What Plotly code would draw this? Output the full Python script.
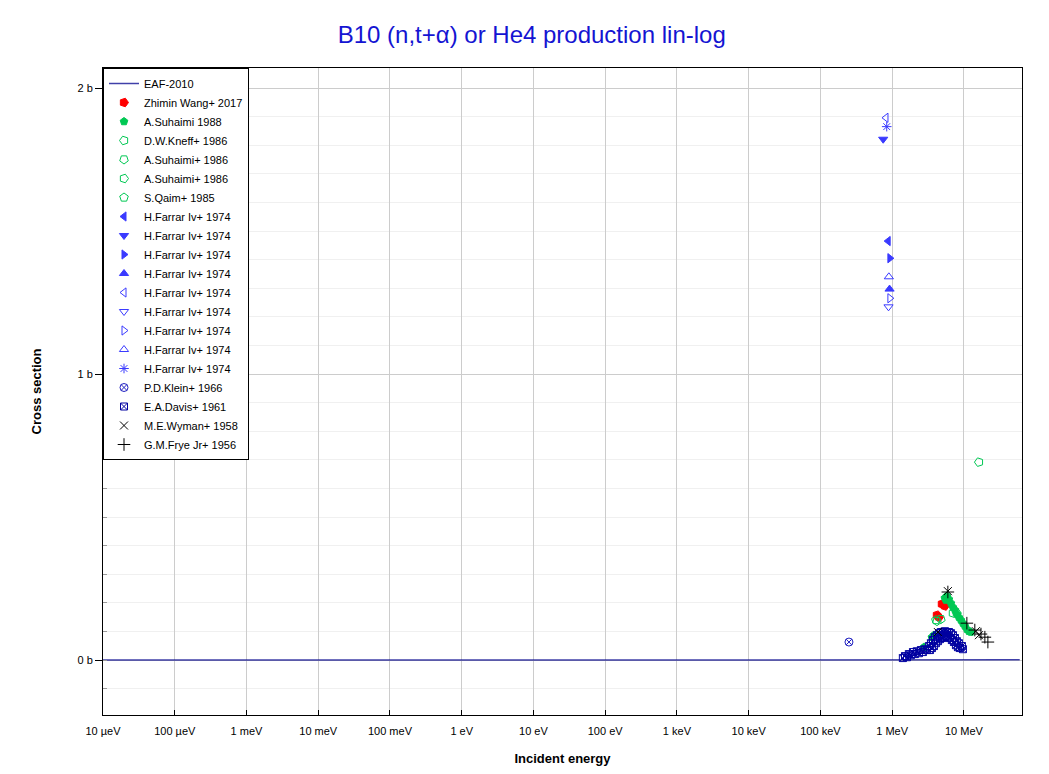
import plotly.graph_objects as go

# ---- data (energies in eV, cross sections in barn) ----
eaf_e = [1e-5, 1e-3, 1e-1, 1e1, 1e3, 1e5, 1e6, 3e6, 1e7, 2e7, 6e7]
eaf_cs = [0.0, 0.0, 0.0, 0.0, 0.0, 0.0, 0.0, 0.0005, 0.001, 0.001, 0.001]

wang_e = [4.21e6, 4.49e6, 4.94e6, 5.43e6]
wang_cs = [0.157, 0.150, 0.196, 0.189]

suhaimi88_e = [2.77e6, 3.58e6, 3.82e6, 5.43e6, 5.61e6, 5.79e6, 6.18e6, 6.59e6, 7.03e6,
               7.50e6, 7.98e6, 8.51e6, 9.08e6, 9.69e6, 1.03e7, 1.10e7, 1.17e7, 1.25e7]
suhaimi88_cs = [0.045, 0.080, 0.087, 0.217, 0.210, 0.224, 0.213, 0.199, 0.185,
                0.175, 0.161, 0.150, 0.140, 0.129, 0.119, 0.108, 0.101, 0.098]

kneff_e = [1.62e7]
kneff_cs = [0.692]

suhaimi86a_e = [4.21e6, 4.78e6]
suhaimi86a_cs = [0.136, 0.143]

suhaimi86b_e = [7.03e6, 7.98e6]
suhaimi86b_cs = [0.164, 0.164]

qaim_e = [4.07e6]
qaim_cs = [0.140]

farrar_symbols = ["triangle-left", "triangle-down", "triangle-right", "triangle-up",
                  "triangle-left-open", "triangle-down-open", "triangle-right-open",
                  "triangle-up-open", "asterisk-open"]
farrar_e = [8.8e5, 7.5e5, 9.3e5, 9.2e5, 8.2e5, 8.9e5, 9.3e5, 9.0e5, 8.4e5]
farrar_cs = [1.465, 1.821, 1.405, 1.297, 1.896, 1.235, 1.265, 1.340, 1.865]

klein_e = [2.5e5]
klein_cs = [0.063]

davis_e = [1.41e6, 1.51e6, 1.61e6, 1.71e6, 1.82e6, 1.95e6, 2.07e6, 2.21e6, 2.36e6, 2.52e6,
           2.68e6, 2.86e6, 3.05e6, 3.25e6, 3.36e6, 3.47e6, 3.58e6, 3.70e6, 3.82e6, 3.94e6,
           4.07e6, 4.21e6, 4.34e6, 4.49e6, 4.63e6, 4.78e6, 4.94e6, 5.10e6, 5.26e6, 5.43e6,
           5.61e6, 5.79e6, 5.98e6, 6.18e6, 6.38e6, 6.59e6, 6.80e6, 7.03e6, 7.26e6, 7.50e6,
           7.74e6, 7.98e6, 8.25e6, 8.51e6, 8.80e6, 9.38e6, 9.69e6]
davis_cs = [0.007, 0.014, 0.010, 0.021, 0.017, 0.028, 0.021, 0.031, 0.024, 0.035,
            0.028, 0.038, 0.035, 0.049, 0.035, 0.059, 0.042, 0.070, 0.049, 0.080,
            0.059, 0.087, 0.066, 0.094, 0.073, 0.098, 0.077, 0.098, 0.080, 0.101,
            0.084, 0.098, 0.080, 0.098, 0.077, 0.094, 0.070, 0.087, 0.063, 0.077,
            0.052, 0.066, 0.045, 0.059, 0.042, 0.049, 0.038]

wyman_e = [4.34e6, 5.98e6, 1.47e7, 1.62e7]
wyman_cs = [0.098, 0.241, 0.101, 0.087]

frye_e = [5.98e6, 1.10e7, 1.42e7, 1.73e7, 1.96e7, 2.16e7]
frye_cs = [0.238, 0.129, 0.105, 0.091, 0.080, 0.063]

tick_vals = [1e-5, 1e-4, 1e-3, 1e-2, 1e-1, 1, 10, 100, 1e3, 1e4, 1e5, 1e6, 1e7]
tick_text = ["10 µeV", "100 µeV", "1 meV", "10 meV", "100 meV", "1 eV", "10 eV",
             "100 eV", "1 keV", "10 keV", "100 keV", "1 MeV", "10 MeV"]

GREEN = "#00c853"
FARRAR = "#3a3aff"

fig = go.Figure()

fig.add_trace(go.Scatter(x=eaf_e, y=eaf_cs, mode="lines", name="EAF-2010",
                         line=dict(color="rgba(0,0,140,0.75)", width=1.5)))

def pts(x, y, name, symbol, color, size=7, angle=0):
    fig.add_trace(go.Scatter(x=x, y=y, mode="markers", name=name,
                             marker=dict(symbol=symbol, color=color, size=size, angle=angle,
                                         line=dict(color=color, width=1))))

pts(wang_e, wang_cs, "Zhimin Wang+ 2017", "pentagon", "#ff0000", 9, 90)
pts(suhaimi88_e, suhaimi88_cs, "A.Suhaimi 1988", "pentagon", GREEN, 8)
pts(kneff_e, kneff_cs, "D.W.Kneff+ 1986", "pentagon-open", GREEN, 9, -90)
pts(suhaimi86a_e, suhaimi86a_cs, "A.Suhaimi+ 1986", "pentagon-open", GREEN, 9, 180)
pts(suhaimi86b_e, suhaimi86b_cs, "A.Suhaimi+ 1986", "pentagon-open", GREEN, 9, 90)
pts(qaim_e, qaim_cs, "S.Qaim+ 1985", "pentagon-open", GREEN, 9)
for i, sym in enumerate(farrar_symbols):
    pts([farrar_e[i]], [farrar_cs[i]], "H.Farrar Iv+ 1974", sym, FARRAR, 8)
pts(klein_e, klein_cs, "P.D.Klein+ 1966", "circle-x-open", "#2020c0", 8)
pts(davis_e, davis_cs, "E.A.Davis+ 1961", "square-x-open", "#0000a0", 7)
pts(wyman_e, wyman_cs, "M.E.Wyman+ 1958", "x-thin-open", "#000000", 8)
pts(frye_e, frye_cs, "G.M.Frye Jr+ 1956", "cross-thin-open", "#000000", 9)

fig.update_layout(
    width=1033, height=758,
    margin=dict(l=95, r=19, t=60, b=51),
    paper_bgcolor="white", plot_bgcolor="white",
    font=dict(family="Arial, Liberation Sans, sans-serif", size=11, color="black"),
    title=dict(text="B10 (n,t+α) or He4 production lin-log", x=0.507, xanchor="center",
               y=0.965, yanchor="middle", font=dict(size=24, color="#1414d2")),
    showlegend=True,
    legend=dict(x=0, y=1, xanchor="left", yanchor="top", bgcolor="white",
                bordercolor="black", borderwidth=1, font=dict(size=11),
                tracegroupgap=0, itemwidth=30),
)

fig.update_xaxes(type="log", range=[-5, 7.81], tickvals=tick_vals, ticktext=tick_text,
                 showgrid=True, gridcolor="#cccccc", gridwidth=1,
                 ticks="inside", ticklen=5, tickcolor="black", ticklabelstandoff=6,
                 showline=True, linecolor="black", linewidth=1, mirror=True,
                 zeroline=False, automargin=False,
                 title=dict(text="<b>Incident energy</b>", font=dict(size=13), standoff=17))

fig.update_yaxes(range=[-0.192, 2.07], tickvals=[0, 1, 2], ticktext=["0 b", "1 b", "2 b"],
                 showgrid=True, gridcolor="#cccccc", gridwidth=1,
                 ticks="outside", ticklen=7, tickcolor="black",
                 minor=dict(dtick=0.1, tick0=0, ticks="inside", ticklen=4, tickcolor="#999999",
                            showgrid=True, gridcolor="#f0f0f0"),
                 showline=True, linecolor="black", linewidth=1, mirror=True,
                 zeroline=False, automargin=False,
                 title=dict(text="<b>Cross section</b>", font=dict(size=13), standoff=32))

fig.write_html("out.html")
